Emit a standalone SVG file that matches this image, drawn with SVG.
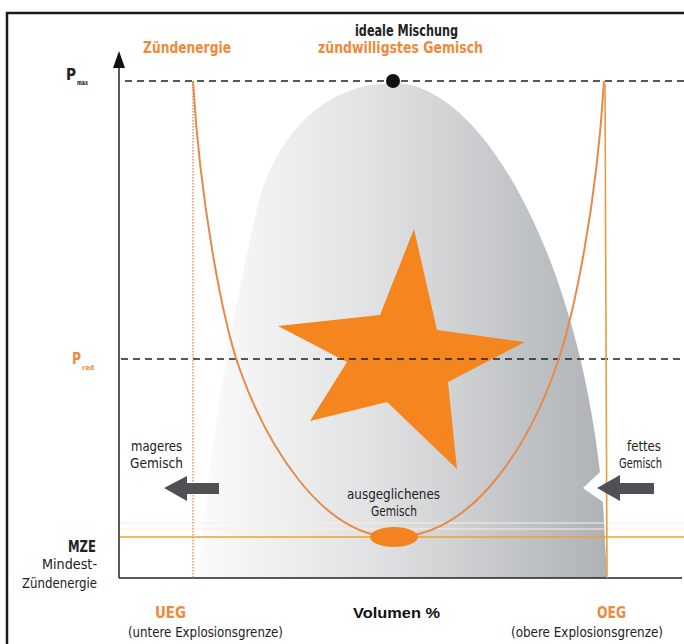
<svg xmlns="http://www.w3.org/2000/svg" width="684" height="644" viewBox="0 0 684 644">
<defs>
<linearGradient id="bellGrad" gradientUnits="userSpaceOnUse" x1="198" y1="0" x2="607" y2="0">
<stop offset="0" stop-color="#fbfbfb"/>
<stop offset="0.45" stop-color="#dfe0e1"/>
<stop offset="1" stop-color="#aeb2b6"/>
</linearGradient>
</defs>
<style>
.frame{stroke:#1a1a1a;stroke-width:2.5;fill:none}
.axis{stroke:#222;stroke-width:1.5;fill:none}
.dash{stroke:#222;stroke-width:1.4;stroke-dasharray:7 5;fill:none}
.curve{stroke:#e8894a;stroke-width:2;fill:none}
.ueg{stroke:#ee9a6a;stroke-width:1.6;stroke-dasharray:1.5 1.5;fill:none}
.oeg{stroke:#eb9a40;stroke-width:1.6;fill:none}
.mze{stroke:#f0a22a;stroke-width:1.6;fill:none}
.faint{stroke:#fdeedd;stroke-width:1;fill:none}
.arrow{fill:#4f5154}
.t{font-family:"DejaVu Sans Condensed","DejaVu Sans",sans-serif;font-stretch:condensed;fill:#222}
.b{font-weight:bold}
.o{fill:#f08a3a}
.r{font-size:13.5px}
.h{font-size:15px}
.a{font-family:"Liberation Sans",Arial,sans-serif;font-weight:bold;font-size:15px;fill:#111}
</style>
<rect width="684" height="644" fill="#ffffff"/>
<g id="frame">
<path class="frame" d="M7 644 L7 13 L684 13"/>
</g>
<g id="bell">
<path d="M198 578 C210 430 240 280 258 205 C275 140 320 83 394 83 C480 83 575 250 600 472 L583 488 L603 502 L607 578 Z" fill="url(#bellGrad)"/>
</g>
<g id="star">
<polygon points="414,229 437,330 525,342 448,382 457,469 387,402 310,421 347,362 278,326 380,315" fill="#f5861f"/>
</g>
<g id="connectors">
<line class="faint" x1="120" y1="523" x2="684" y2="523"/>
<line class="faint" x1="120" y1="529" x2="684" y2="529"/>
<line class="axis" x1="119" y1="578" x2="119" y2="62"/>
<polygon points="119,51 125,68 113,68" fill="#111"/>
<line class="axis" x1="119" y1="578" x2="682" y2="578"/>
<line class="dash" x1="125" y1="81" x2="684" y2="81"/>
<line class="dash" x1="121" y1="359" x2="684" y2="359"/>
<line class="ueg" x1="193" y1="84" x2="193" y2="578"/>
<line class="oeg" x1="605" y1="84" x2="607" y2="578"/>
<line class="mze" x1="120" y1="537" x2="684" y2="537"/>
<path class="curve" d="M193 81 C200 200 222 320 240 370 C265 440 320 537 394 537 C475 537 530 440 555 370 C575 315 597 200 604 81"/>
</g>
<g id="ideal-point">
<circle cx="393" cy="81" r="7" fill="#111"/>
</g>
<g id="balanced-point">
<ellipse cx="394" cy="537" rx="24" ry="10" fill="#f58220"/>
</g>
<g id="arrow-lean">
<polygon class="arrow" points="164,488 187,476 187,483 219,483 219,494 187,494 187,501"/>
</g>
<g id="arrow-rich">
<polygon class="arrow" points="597,488 620,475 620,483 654,483 654,494 620,494 620,501"/>
</g>
<g id="labels-top">
<text class="t b h" x="355" y="36" textLength="103" lengthAdjust="spacingAndGlyphs">ideale Mischung</text>
<text class="t b h o" x="318" y="53" textLength="165" lengthAdjust="spacingAndGlyphs">zündwilligstes Gemisch</text>
<text class="t b h o" x="143" y="53" textLength="88" lengthAdjust="spacingAndGlyphs">Zündenergie</text>
</g>
<g id="label-pmax">
<text class="t b" x="66" y="80" font-size="16" textLength="10" lengthAdjust="spacingAndGlyphs">P</text>
<text class="t b" x="77" y="85" font-size="7" textLength="11" lengthAdjust="spacingAndGlyphs">max</text>
</g>
<g id="label-pred">
<text class="t b o" x="72" y="364" font-size="16" textLength="9" lengthAdjust="spacingAndGlyphs">P</text>
<text class="t b o" x="82" y="370" font-size="7" textLength="12" lengthAdjust="spacingAndGlyphs">red</text>
</g>
<g id="label-lean">
<text class="t r" x="131" y="451" textLength="51" lengthAdjust="spacingAndGlyphs">mageres</text>
<text class="t r" x="130" y="468" textLength="53" lengthAdjust="spacingAndGlyphs">Gemisch</text>
</g>
<g id="label-rich">
<text class="t r" x="627" y="451" textLength="34" lengthAdjust="spacingAndGlyphs">fettes</text>
<text class="t r" x="619" y="468" textLength="43" lengthAdjust="spacingAndGlyphs">Gemisch</text>
</g>
<g id="label-balanced">
<text class="t r" x="347" y="499" textLength="93" lengthAdjust="spacingAndGlyphs">ausgeglichenes</text>
<text class="t r" x="371" y="516" textLength="46" lengthAdjust="spacingAndGlyphs">Gemisch</text>
</g>
<g id="label-mze">
<text class="t b h" x="68" y="552" textLength="28" lengthAdjust="spacingAndGlyphs">MZE</text>
<text class="t r" x="42" y="569" textLength="55" lengthAdjust="spacingAndGlyphs">Mindest-</text>
<text class="t r" x="22" y="588" textLength="75" lengthAdjust="spacingAndGlyphs">Zündenergie</text>
</g>
<g id="label-ueg">
<text class="t b h o" x="155" y="618" textLength="31" lengthAdjust="spacingAndGlyphs">UEG</text>
<text class="t r" x="128" y="637" textLength="155" lengthAdjust="spacingAndGlyphs">(untere Explosionsgrenze)</text>
</g>
<g id="label-volume">
<text class="a" x="353" y="618" textLength="87" lengthAdjust="spacingAndGlyphs">Volumen %</text>
</g>
<g id="label-oeg">
<text class="t b h o" x="597" y="618" textLength="29" lengthAdjust="spacingAndGlyphs">OEG</text>
<text class="t r" x="511" y="637" textLength="152" lengthAdjust="spacingAndGlyphs">(obere Explosionsgrenze)</text>
</g>
</svg>
